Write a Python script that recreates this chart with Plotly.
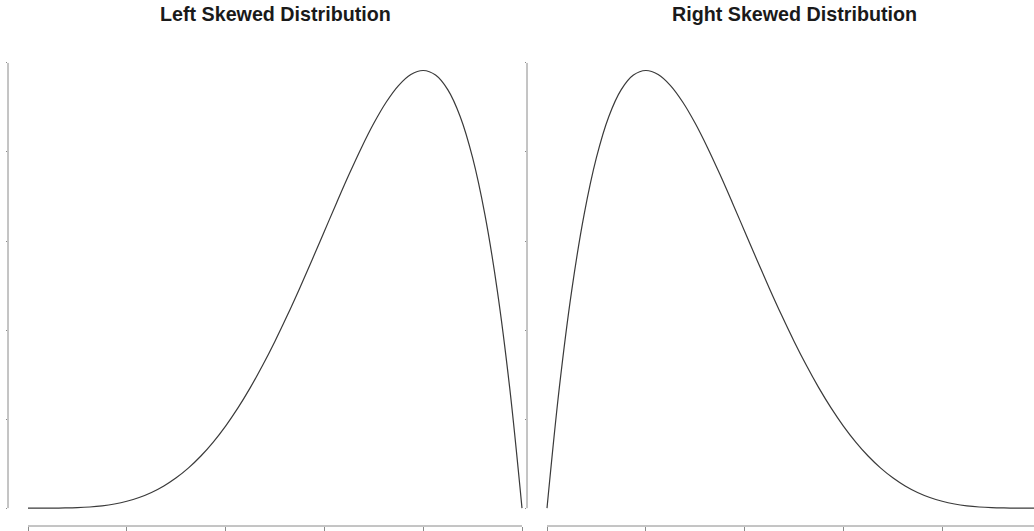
import plotly.graph_objects as go

# ---- data (density values) ----
x_vals = [0.000, 0.025, 0.050, 0.075, 0.100, 0.125, 0.150, 0.175, 0.200, 0.225,
          0.250, 0.275, 0.300, 0.325, 0.350, 0.375, 0.400, 0.425, 0.450, 0.475,
          0.500, 0.525, 0.550, 0.575, 0.600, 0.625, 0.650, 0.675, 0.700, 0.725,
          0.750, 0.775, 0.800, 0.825, 0.850, 0.875, 0.900, 0.925, 0.950, 0.975, 1.000]

left_density = [0.0000, 0.0000, 0.0002, 0.0009, 0.0027, 0.0064, 0.0129, 0.0232, 0.0384, 0.0596,
                0.0879, 0.1244, 0.1701, 0.2259, 0.2926, 0.3708, 0.4608, 0.5628, 0.6766, 0.8018,
                0.9375, 1.0826, 1.2353, 1.3937, 1.5552, 1.7166, 1.8743, 2.0240, 2.1609, 2.2793,
                2.3730, 2.4351, 2.4576, 2.4321, 2.3490, 2.1982, 1.9683, 1.6472, 1.2218, 0.6778, 0.0000]

right_density = [0.0000, 0.6778, 1.2218, 1.6472, 1.9683, 2.1982, 2.3490, 2.4321, 2.4576, 2.4351,
                 2.3730, 2.2793, 2.1609, 2.0240, 1.8743, 1.7166, 1.5552, 1.3937, 1.2353, 1.0826,
                 0.9375, 0.8018, 0.6766, 0.5628, 0.4608, 0.3708, 0.2926, 0.2259, 0.1701, 0.1244,
                 0.0879, 0.0596, 0.0384, 0.0232, 0.0129, 0.0064, 0.0027, 0.0009, 0.0002, 0.0000, 0.0000]

x_ticks = [0.0, 0.2, 0.4, 0.6, 0.8, 1.0]
y_ticks = [0.0, 0.5, 1.0, 1.5, 2.0, 2.5]
titles = ["Left Skewed Distribution", "Right Skewed Distribution"]

# ---- geometry ----
W, H = 1034, 531
ppu_x = 494.0
left_x0_px, right_x0_px = 28, 547
left_dom = (8, 527)
right_dom = (527, 1034)
ml, mr, mt, mb = 0, 0, 53, 2
y_range = [-0.1004, 2.5558]

def xr(dom, x0px):
    return [(dom[0] - x0px) / ppu_x, (dom[1] - x0px) / ppu_x]

axis_col = "#8a8a8a"
curve_col = "#3a3a3a"

fig = go.Figure()
fig.add_trace(go.Scatter(x=x_vals, y=left_density, mode="lines",
                         line=dict(color=curve_col, width=1.2, shape="spline"),
                         xaxis="x", yaxis="y", hoverinfo="skip", showlegend=False))
fig.add_trace(go.Scatter(x=x_vals, y=right_density, mode="lines",
                         line=dict(color=curve_col, width=1.2, shape="spline"),
                         xaxis="x2", yaxis="y2", hoverinfo="skip", showlegend=False))

common_x = dict(showgrid=False, zeroline=False, showline=False, showticklabels=False,
                ticks="outside", ticklen=5, tickcolor=axis_col, tickwidth=1,
                tickvals=x_ticks, fixedrange=True)
common_y = dict(showgrid=False, zeroline=False, showline=False, showticklabels=False,
                ticks="outside", ticklen=1, tickcolor=axis_col, tickwidth=1,
                tickvals=y_ticks, range=y_range, fixedrange=True)

fig.update_layout(
    width=W, height=H,
    margin=dict(l=ml, r=mr, t=mt, b=mb),
    paper_bgcolor="white", plot_bgcolor="rgba(0,0,0,0)",
    hovermode=False,
    xaxis=dict(domain=[left_dom[0] / W, left_dom[1] / W],
               range=xr(left_dom, left_x0_px), anchor="y", **common_x),
    yaxis=dict(domain=[0, 1], anchor="x", **common_y),
    xaxis2=dict(domain=[right_dom[0] / W, right_dom[1] / W],
                range=xr(right_dom, right_x0_px), anchor="y2", **common_x),
    yaxis2=dict(domain=[0, 1], anchor="x2", **common_y),
)

shapes = []
for xa, ya in (("x", "y"), ("x2", "y2")):
    # x axis line between first and last tick (paper y -> not clipped vertically)
    shapes.append(dict(type="line", xref=xa, yref="paper",
                       x0=x_ticks[0], x1=x_ticks[-1], y0=0, y1=0,
                       line=dict(color=axis_col, width=1)))
    # y axis line between first and last tick
    shapes.append(dict(type="line", xref=f"{xa} domain", yref=ya,
                       x0=0, x1=0, y0=y_ticks[0], y1=y_ticks[-1],
                       line=dict(color=axis_col, width=1)))
fig.update_layout(shapes=shapes)

plot_h = H - mt - mb
title_y = (H - mb - 14) / plot_h
centers = [(8 + 542) / 2, (527 + 1061) / 2]
for t, c in zip(titles, centers):
    fig.add_annotation(text=f"<b>{t}</b>", xref="paper", yref="paper",
                       x=c / W, y=title_y, xanchor="center", yanchor="middle",
                       showarrow=False,
                       font=dict(family="Liberation Sans, Arial, sans-serif", size=19.7, color="#1a1a1a"))

fig.write_html("out.html",
               config={"displayModeBar": False, "staticPlot": True},
               post_script="document.body.style.margin='0';document.body.style.overflow='hidden';")
